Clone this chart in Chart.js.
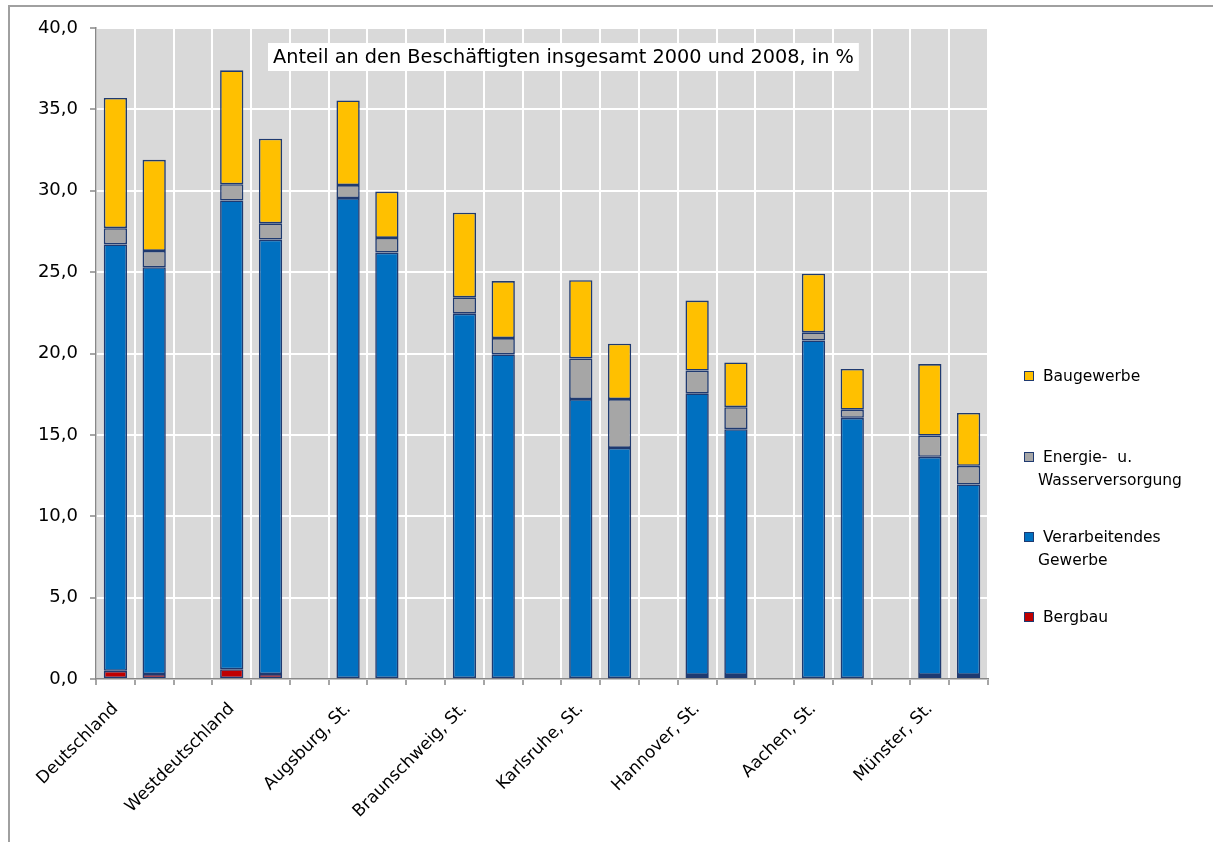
<!DOCTYPE html>
<html lang="de">
<head>
<meta charset="utf-8">
<title>Anteil an den Beschäftigten insgesamt 2000 und 2008</title>
<script src="https://cdn.jsdelivr.net/npm/chart.js@4.4.1/dist/chart.umd.min.js"></script>
<style>
  html, body { margin: 0; padding: 0; background: #fff; }
  #wrap { position: relative; width: 1213px; height: 842px; overflow: hidden; }
  #frame { position: absolute; left: 8px; top: 5px; width: 1300px; height: 900px;
           border-left: 2px solid #a0a0a0; border-top: 2px solid #a0a0a0; }
  #chart { position: absolute; left: 0; top: 0; }
  .lg-box { position: absolute; width: 8px; height: 8px; border: 1px solid #1f3a70; }
  .lg-txt { position: absolute; font-family: "DejaVu Sans", sans-serif; font-size: 15.5px;
            color: #000; line-height: 20px; white-space: pre; }
</style>
</head>
<body>
<div id="wrap">
  <div id="frame"></div>
  <canvas id="chart" width="1213" height="842"></canvas>
  <div id="legend"></div>
</div>
<script>
// Kategorien: je Region zwei Balken (2000, 2008) und eine Lücke
const categories = [
  "Deutschland", "", "",
  "Westdeutschland", "", "",
  "Augsburg, St.", "", "",
  "Braunschweig, St.", "", "",
  "Karlsruhe, St.", "", "",
  "Hannover, St.", "", "",
  "Aachen, St.", "", "",
  "Münster, St.", ""
];

// Anteile in %
const bergbau = [0.5, 0.3, null, 0.6, 0.3, null, 0.05, 0.05, null, 0.05, 0.05, null,
                 0.05, 0.05, null, 0.25, 0.25, null, 0.05, 0.05, null, 0.25, 0.25];
const verarbeitendes = [26.2, 25.0, null, 28.8, 26.7, null, 29.5, 26.15, null, 22.4, 19.9, null,
                        17.15, 14.15, null, 17.3, 15.1, null, 20.75, 16.0, null, 13.4, 11.7];
const energie = [1.0, 1.0, null, 1.0, 1.0, null, 0.8, 0.9, null, 1.0, 1.0, null,
                 2.5, 3.0, null, 1.4, 1.35, null, 0.5, 0.5, null, 1.3, 1.15];
const baugewerbe = [8.0, 5.6, null, 7.0, 5.2, null, 5.2, 2.85, null, 5.2, 3.5, null,
                    4.8, 3.4, null, 4.3, 2.75, null, 3.6, 2.5, null, 4.4, 3.25];

const yTicks = [0, 5, 10, 15, 20, 25, 30, 35, 40];
const titleText = "Anteil an den Beschäftigten insgesamt 2000 und 2008, in %";

const seriesNames = ["Bergbau", "Verarbeitendes Gewerbe", "Energie- u. Wasserversorgung", "Baugewerbe"];
const seriesColors = ["#c00000", "#0070c0", "#a6a6a6", "#ffc000"];
const seriesValues = [bergbau, verarbeitendes, energie, baugewerbe];

// Legende (oben nach unten, umgekehrte Stapelreihenfolge)
const legendLines = [
  [" Baugewerbe"],
  [" Energie-  u.", "Wasserversorgung"],
  [" Verarbeitendes", "Gewerbe"],
  [" Bergbau"]
];
const legendColors = ["#ffc000", "#a6a6a6", "#0070c0", "#c00000"];
const legendTop = [376, 457, 537, 617];

function buildLegend() {
  const el = document.getElementById("legend");
  legendLines.forEach((lines, i) => {
    const box = document.createElement("div");
    box.className = "lg-box";
    box.style.left = "1024px";
    box.style.top = (legendTop[i] - 5) + "px";
    box.style.background = legendColors[i];
    el.appendChild(box);
    lines.forEach((line, j) => {
      const t = document.createElement("div");
      t.className = "lg-txt";
      t.textContent = line;
      t.style.left = "1038px";
      t.style.top = (legendTop[i] - 10 + j * 23) + "px";
      el.appendChild(t);
    });
  });
}

// grauer Hintergrund der Zeichenfläche
const plotBg = {
  id: "plotBg",
  beforeDraw(chart) {
    const { ctx, chartArea: a } = chart;
    ctx.save();
    ctx.fillStyle = "#d9d9d9";
    ctx.fillRect(a.left, a.top, a.right - a.left, a.bottom - a.top);
    ctx.restore();
  }
};

// Titel als weißes Kästchen in der Zeichenfläche
const titleBox = {
  id: "titleBox",
  beforeDatasetsDraw(chart) {
    const ctx = chart.ctx;
    ctx.save();
    ctx.font = '19.3px "DejaVu Sans"';
    const w = ctx.measureText(titleText).width;
    const x = 268, y = 43;
    ctx.fillStyle = "#fff";
    ctx.fillRect(x, y, w + 10, 28);
    ctx.fillStyle = "#000";
    ctx.textBaseline = "middle";
    ctx.fillText(titleText, x + 5, y + 14.5);
    ctx.restore();
  }
};

buildLegend();

new Chart(document.getElementById("chart").getContext("2d"), {
  type: "bar",
  data: {
    labels: categories,
    datasets: seriesNames.map((name, i) => ({
      label: name,
      data: seriesValues[i],
      backgroundColor: seriesColors[i],
      borderColor: "#1f3a70",
      borderWidth: 1.6,
      borderSkipped: false,
      categoryPercentage: 1,
      barPercentage: 0.6
    }))
  },
  options: {
    responsive: false,
    animation: false,
    layout: { padding: { top: 28, right: 225, left: 0, bottom: 0 } },
    plugins: {
      legend: { display: false },
      tooltip: { enabled: false },
      title: { display: false }
    },
    scales: {
      x: {
        stacked: true,
        offset: true,
        grid: { color: "#ffffff", lineWidth: 2, offset: true, tickColor: "#888888", tickWidth: 1.5, tickLength: 6 },
        border: { color: "#888888", width: 1.5 },
        ticks: {
          autoSkip: false, maxRotation: 45, minRotation: 45, padding: 14,
          color: "#000", font: { family: "DejaVu Sans", size: 17 }
        },
        afterFit(scale) { scale.height = 163; }
      },
      y: {
        stacked: true,
        min: 0,
        max: 40,
        afterBuildTicks(scale) { scale.ticks = yTicks.map(v => ({ value: v })); },
        grid: { color: "#ffffff", lineWidth: 2, tickColor: "#888888", tickWidth: 1.5, tickLength: 6 },
        border: { color: "#888888", width: 1.5 },
        ticks: {
          padding: 12,
          color: "#000",
          font: { family: "DejaVu Sans", size: 18 },
          callback: v => v.toFixed(1).replace(".", ",")
        },
        afterFit(scale) { scale.width = 96; }
      }
    }
  },
  plugins: [plotBg, titleBox]
});
</script>
</body>
</html>
